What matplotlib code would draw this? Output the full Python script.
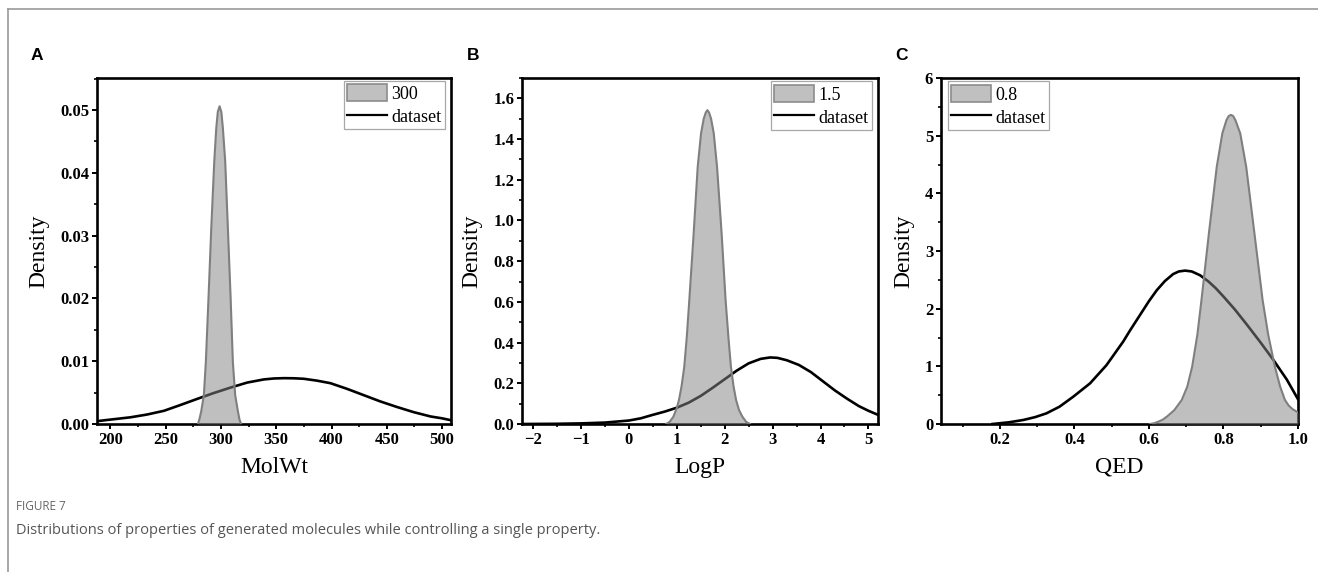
import matplotlib
matplotlib.use("Agg")
import matplotlib.pyplot as plt
from matplotlib.patches import Patch
from matplotlib.lines import Line2D
from matplotlib.ticker import MultipleLocator, FormatStrFormatter

# ---- data ----
# A: MolWt
gen_a_x = [279.2, 280.5, 282.2, 284.6, 286.4, 288.9, 291.3, 294.0, 295.8, 297.2, 298.8,
           300.4, 301.8, 303.9, 306.3, 308.7, 310.8, 312.9, 315.4, 316.8, 318.3]
gen_a_y = [0.0, 0.0007, 0.002, 0.0046, 0.0099, 0.0205, 0.0312, 0.0418, 0.0471, 0.0497, 0.0506,
           0.0497, 0.0471, 0.0418, 0.0312, 0.0205, 0.0099, 0.0046, 0.002, 0.0007, 0.0]
data_a_x = [188, 200, 218, 233, 248.5, 263, 278.6, 293, 308.7, 323.8, 338.9, 348, 357,
            366, 375, 387, 399, 414, 429, 444, 459.3, 474, 489.5, 500, 508]
data_a_y = [0.00045, 0.0007, 0.00106, 0.0015, 0.0021, 0.0030, 0.0040, 0.0049, 0.0058, 0.0066,
            0.0071, 0.00725, 0.0073, 0.00728, 0.0072, 0.0069, 0.0065, 0.0056, 0.0046, 0.0036,
            0.0027, 0.0019, 0.0012, 0.0009, 0.0006]

# B: LogP
gen_b_x = [0.777, 0.85, 0.93, 1.0, 1.046, 1.1, 1.157, 1.21, 1.262, 1.353, 1.437, 1.507, 1.563,
           1.605, 1.639, 1.675, 1.716, 1.772, 1.841, 1.936, 2.019, 2.08, 2.13, 2.185, 2.238,
           2.3, 2.37, 2.45, 2.53]
gen_b_y = [0.0, 0.01, 0.036, 0.078, 0.118, 0.185, 0.282, 0.43, 0.609, 0.937, 1.263, 1.428, 1.50,
           1.53, 1.542, 1.53, 1.50, 1.428, 1.263, 0.937, 0.609, 0.42, 0.282, 0.185, 0.118,
           0.068, 0.036, 0.01, 0.0]
data_b_x = [-2.23, -1.5, -1.0, -0.5, 0.0, 0.25, 0.5, 0.75, 1.0, 1.25, 1.5, 1.75, 2.0, 2.25,
            2.5, 2.75, 2.95, 3.1, 3.3, 3.55, 3.8, 4.05, 4.3, 4.55, 4.8, 5.0, 5.2]
data_b_y = [0.0, 0.001, 0.003, 0.007, 0.017, 0.028, 0.045, 0.061, 0.08, 0.105, 0.138, 0.178,
            0.22, 0.262, 0.298, 0.32, 0.327, 0.325, 0.313, 0.29, 0.255, 0.21, 0.165, 0.125,
            0.088, 0.065, 0.045]

# C: QED
gen_c_x = [0.603, 0.615, 0.625, 0.637, 0.648, 0.668, 0.688, 0.703, 0.716, 0.73, 0.741,
           0.761, 0.782, 0.797, 0.808, 0.814, 0.820, 0.826, 0.832, 0.845, 0.861, 0.883,
           0.905, 0.92, 0.938, 0.952, 0.965, 0.975, 0.985, 1.0]
gen_c_y = [0.0, 0.015, 0.04, 0.075, 0.127, 0.24, 0.416, 0.65, 0.994, 1.55, 2.15,
           3.31, 4.46, 5.04, 5.27, 5.34, 5.36, 5.34, 5.27, 5.04, 4.46, 3.31,
           2.15, 1.55, 0.994, 0.65, 0.416, 0.32, 0.26, 0.2]
data_c_x = [0.18, 0.225, 0.263, 0.295, 0.325, 0.36, 0.397, 0.442, 0.486, 0.531, 0.55, 0.576,
            0.6, 0.621, 0.643, 0.665, 0.68, 0.697, 0.715, 0.737, 0.76, 0.78, 0.8, 0.83,
            0.862, 0.9, 0.934, 0.97, 1.0]
data_c_y = [0.0, 0.03, 0.07, 0.12, 0.185, 0.3, 0.474, 0.705, 1.02, 1.43, 1.63, 1.89,
            2.13, 2.32, 2.48, 2.60, 2.645, 2.66, 2.645, 2.58, 2.47, 2.35, 2.21, 1.99,
            1.73, 1.41, 1.11, 0.77, 0.43]

panels = [
    dict(letter="A", xlabel="MolWt", legend_label="300", gx=gen_a_x, gy=gen_a_y,
         dx=data_a_x, dy=data_a_y, xlim=(188, 508), ylim=(0, 0.0551),
         xmaj=50, xmin=25, ymaj=0.01, ymin=0.005, yfmt="%.2f", xfmt="%d",
         pos=[97, 451], legloc="upper right", anchor=(0.982, 0.992), ylab_x=-0.135,
         letter_x=37),
    dict(letter="B", xlabel="LogP", legend_label="1.5", gx=gen_b_x, gy=gen_b_y,
         dx=data_b_x, dy=data_b_y, xlim=(-2.23, 5.2), ylim=(0, 1.7),
         xmaj=1, xmin=0.5, ymaj=0.2, ymin=0.1, yfmt="%.1f", xfmt="%d",
         pos=[522, 878], legloc="upper right", anchor=(0.982, 0.99), ylab_x=-0.11,
         letter_x=473),
    dict(letter="C", xlabel="QED", legend_label="0.8", gx=gen_c_x, gy=gen_c_y,
         dx=data_c_x, dy=data_c_y, xlim=(0.042, 1.0), ylim=(0, 6),
         xmaj=0.2, xmin=0.1, ymaj=1, ymin=0.5, yfmt="%d", xfmt="%.1f",
         pos=[941, 1298], legloc="upper left", anchor=(0.02, 0.99), ylab_x=-0.075,
         letter_x=902),
]

W, H = 1318, 572
fig = plt.figure(figsize=(W / 100, H / 100), dpi=100)
serif = ["Liberation Serif", "DejaVu Serif"]

ax_bottom = 1 - 424 / H
ax_height = (424 - 78) / H

for p in panels:
    left, right = p["pos"]
    ax = fig.add_axes([left / W, ax_bottom, (right - left) / W, ax_height])

    ax.plot(p["dx"], p["dy"], color="black", lw=1.9, zorder=2)
    ax.fill_between(p["gx"], p["gy"], 0, color="#858585", alpha=0.52, lw=0, zorder=3)
    ax.plot(p["gx"], p["gy"], color="#7f7f7f", lw=1.5, zorder=4)

    ax.set_xlim(*p["xlim"])
    ax.set_ylim(*p["ylim"])
    ax.xaxis.set_major_locator(MultipleLocator(p["xmaj"]))
    ax.xaxis.set_minor_locator(MultipleLocator(p["xmin"]))
    ax.yaxis.set_major_locator(MultipleLocator(p["ymaj"]))
    ax.yaxis.set_minor_locator(MultipleLocator(p["ymin"]))
    ax.yaxis.set_major_formatter(FormatStrFormatter(p["yfmt"]))
    if p["letter"] == "B":
        ax.xaxis.set_major_formatter(plt.FuncFormatter(lambda v, _: f"{v:.0f}".replace("-", "\u2212")))
    else:
        ax.xaxis.set_major_formatter(FormatStrFormatter(p["xfmt"]))

    for s in ax.spines.values():
        s.set_linewidth(1.9)
    ax.tick_params(which="major", direction="out", length=3.8, width=1.4,
                   top=False, right=False, labelsize=12, pad=1.8)
    ax.tick_params(which="minor", direction="out", length=2.2, width=1.2,
                   top=False, right=False)
    for lab in ax.get_xticklabels() + ax.get_yticklabels():
        lab.set_fontfamily(serif)
        lab.set_fontweight("bold")

    ax.set_ylabel("Density", fontsize=17, family=serif)
    ax.yaxis.set_label_coords(p["ylab_x"], 0.5)
    ax.set_xlabel(p["xlabel"], fontsize=17, family=serif, va="top")
    ax.xaxis.set_label_coords(0.5, -0.095)

    handles = [Patch(facecolor="#c0c0c0", edgecolor="#8c8c8c", lw=1.2),
               Line2D([], [], color="black", lw=1.6)]
    leg = ax.legend(handles, [p["legend_label"], "dataset"], loc=p["legloc"],
                    bbox_to_anchor=p["anchor"], borderaxespad=0, fancybox=False,
                    framealpha=1, edgecolor="#a8a8a8", handlelength=2.2,
                    handleheight=1.1, handletextpad=0.25, borderpad=0.18,
                    labelspacing=0.25, prop={"family": serif, "size": 13})
    leg.get_frame().set_linewidth(0.9)

    fig.text(p["letter_x"] / W, 1 - 55 / H, p["letter"], fontsize=12.5, fontweight="bold",
             family=["Liberation Sans", "DejaVu Sans"], ha="center", va="center")

# frame lines of the page
fig.add_artist(Line2D([8 / W, 8 / W], [0, 1 - 9 / H], color="#999999", lw=1.2))
fig.add_artist(Line2D([8 / W, 1], [1 - 9 / H, 1 - 9 / H], color="#999999", lw=1.2))

fig.text(16 / W, 1 - 507 / H, "FIGURE 7", fontsize=8.5, color="#666666",
         family=["Open Sans", "DejaVu Sans"], ha="left", va="center")
fig.text(16 / W, 1 - 531 / H,
         "Distributions of properties of generated molecules while controlling a single property.",
         fontsize=10.5, color="#555555", family=["Open Sans", "DejaVu Sans"],
         ha="left", va="center")

fig.savefig("out.png", dpi=100)
